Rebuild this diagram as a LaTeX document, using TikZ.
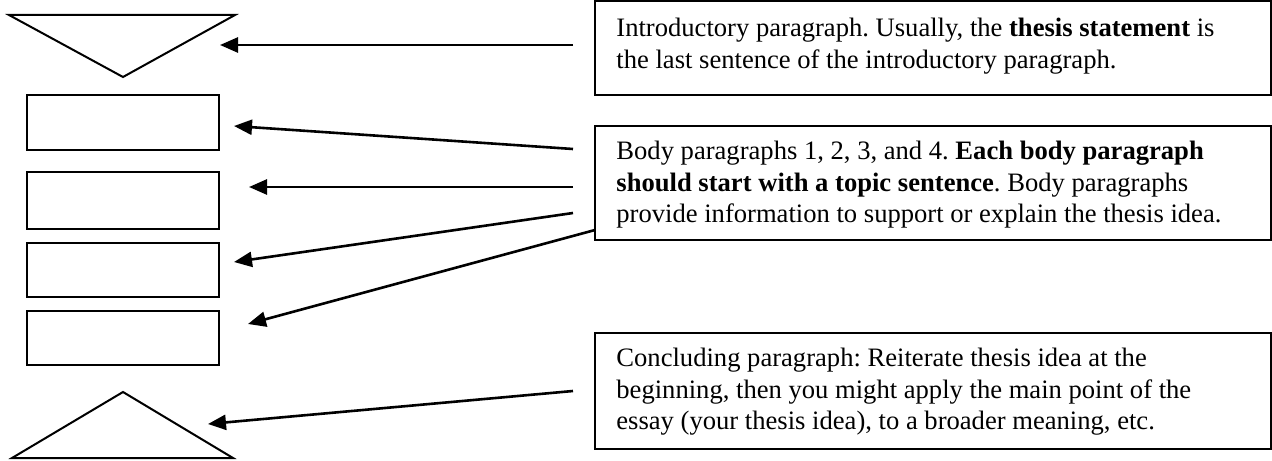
\documentclass[tikz,border=0pt]{standalone}
\usepackage{fontspec}
\setmainfont{Liberation Serif}
\usetikzlibrary{arrows.meta}
\frenchspacing
\begin{document}
\begin{tikzpicture}[x=0.5pt,y=-0.5pt,
  outline/.style={line width=1pt, line join=miter},
  slot/.style={draw, outline, minimum width=96pt, inner sep=0pt},
  textframe/.style={draw, outline, minimum width=338pt, inner sep=0pt},
  label text/.style={anchor=west, align=left, inner sep=0pt, font=\fontsize{13.3}{15.7}\selectfont},
  pointer/.style={line width=1.3pt, -{Triangle[length=9pt,width=7.5pt]}}]
\useasboundingbox (0,0) rectangle (1272,460);
% left column shapes
\draw[outline] (9,15) coordinate (intA) -- (235,15) coordinate (intB) -- (123,77) coordinate (intC) -- cycle;
\node[slot, minimum height=27.5pt] (b1) at (123,122.5) {};
\node[slot, minimum height=28.5pt] (b2) at (123,200.5) {};
\node[slot, minimum height=27pt] (b3) at (123,270) {};
\node[slot, minimum height=27pt] (b4) at (123,338) {};
\draw[outline] (12,458) coordinate (conA) -- (233,458) coordinate (conB) -- (123,392) coordinate (conC) -- cycle;
% text boxes
\node[textframe, minimum height=47pt] (boxA) at (933,48) {};
\node[label text] (txtA) at (616,46) {Introductory paragraph. Usually, the \textbf{thesis statement} is\\the last sentence of the introductory paragraph.};
\node[textframe, minimum height=57pt] (boxB) at (933,183) {};
\node[label text] (txtB) at (616,185) {Body paragraphs 1, 2, 3, and 4. \textbf{Each body paragraph}\\\textbf{should start with a topic sentence}. Body paragraphs\\provide information to support or explain the thesis idea.};
\node[textframe, minimum height=58pt] (boxC) at (933,391) {};
\node[label text] (txtC) at (616,392) {Concluding paragraph: Reiterate thesis idea at the\\beginning, then you might apply the main point of the\\essay (your thesis idea), to a broader meaning, etc.};
% arrow ends
\coordinate (s1) at (573,45);  \coordinate (e1) at (220,45);
\coordinate (s2) at (573,149); \coordinate (e2) at (234,126);
\coordinate (s3) at (573,187); \coordinate (e3) at (249,187);
\coordinate (s4) at (573,213); \coordinate (e4) at (234,262);
\coordinate (s5) at (595,230); \coordinate (e5) at (248,324);
\coordinate (s6) at (573,391); \coordinate (e6) at (208,424);
\foreach \i in {1,...,6} \draw[pointer] (s\i) -- (e\i);
\end{tikzpicture}
\end{document}
